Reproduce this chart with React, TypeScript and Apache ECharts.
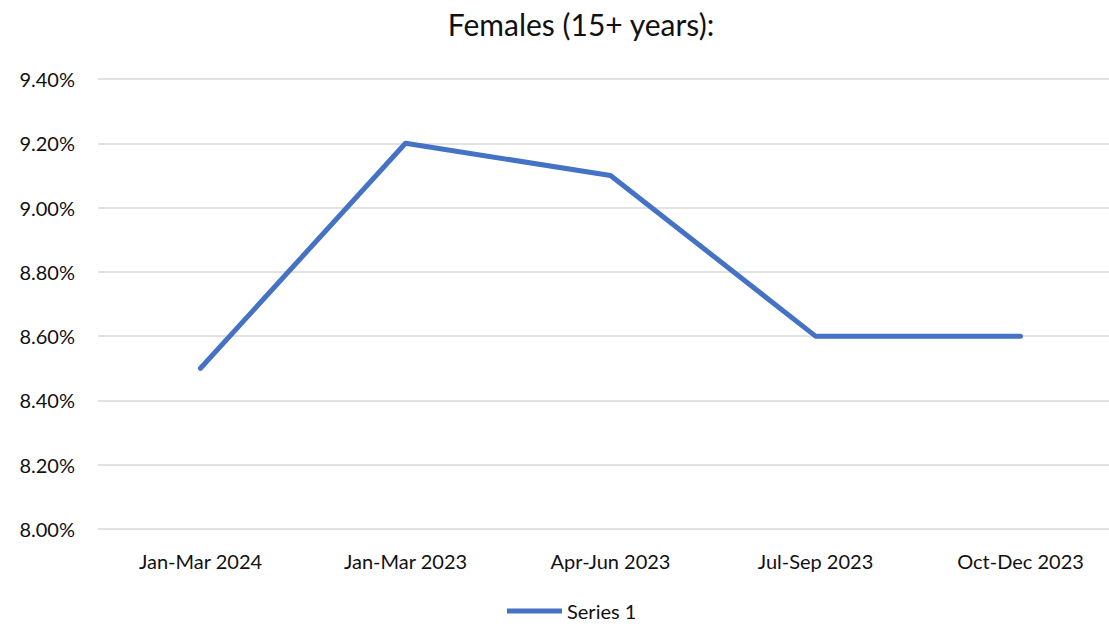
import React, { useEffect, useRef } from "react";
import * as echarts from "echarts";

const categories = ["Jan-Mar 2024", "Jan-Mar 2023", "Apr-Jun 2023", "Jul-Sep 2023", "Oct-Dec 2023"];
const seriesValues = [8.5, 9.2, 9.1, 8.6, 8.6];
const seriesName = "Series 1";
const titleText = "Females (15+ years):";

export default function App() {
  const ref = useRef<HTMLDivElement>(null);
  useEffect(() => {
    if (!ref.current) return;
    const chart = echarts.init(ref.current, null, { renderer: "svg" });
    const font = "Lato, 'Open Sans', sans-serif";
    chart.setOption({
      animation: false,
      backgroundColor: "#ffffff",
      title: {
        text: titleText,
        left: 576,
        textAlign: "center",
        top: 4,
        textStyle: { fontFamily: font, fontSize: 30, fontWeight: "normal", color: "#111" },
      },
      legend: {
        data: [seriesName],
        left: 507,
        top: 601,
        padding: 0,
        icon: "rect",
        itemWidth: 55,
        itemHeight: 5,
        textStyle: { fontFamily: font, fontSize: 20, color: "#111" },
      },
      grid: { left: 98, top: 79, width: 1025, height: 450, containLabel: false },
      xAxis: {
        type: "category",
        data: categories,
        boundaryGap: true,
        axisLine: { show: false },
        axisTick: { show: false },
        axisLabel: { fontFamily: font, fontSize: 20, color: "#111", margin: 22 },
      },
      yAxis: {
        type: "value",
        min: 8.0,
        max: 9.4,
        interval: 0.2,
        axisLine: { show: false },
        axisTick: { show: false },
        splitLine: { lineStyle: { color: "#d9d9d9", width: 1.5 } },
        axisLabel: {
          fontFamily: font,
          fontSize: 20,
          color: "#111",
          margin: 23,
          formatter: (v: number) => v.toFixed(2) + "%",
        },
      },
      series: [
        {
          name: seriesName,
          type: "line",
          data: seriesValues,
          symbol: "none",
          lineStyle: { color: "#4472C4", width: 5, cap: "round", join: "round" },
          itemStyle: { color: "#4472C4" },
        },
      ],
    });
    return () => chart.dispose();
  }, []);
  return (
    <div style={{ position: "fixed", left: 0, top: 0, width: 1109, height: 624, overflow: "hidden", background: "#fff" }}>
      <div ref={ref} style={{ width: 1130, height: 624 }} />
    </div>
  );
}
